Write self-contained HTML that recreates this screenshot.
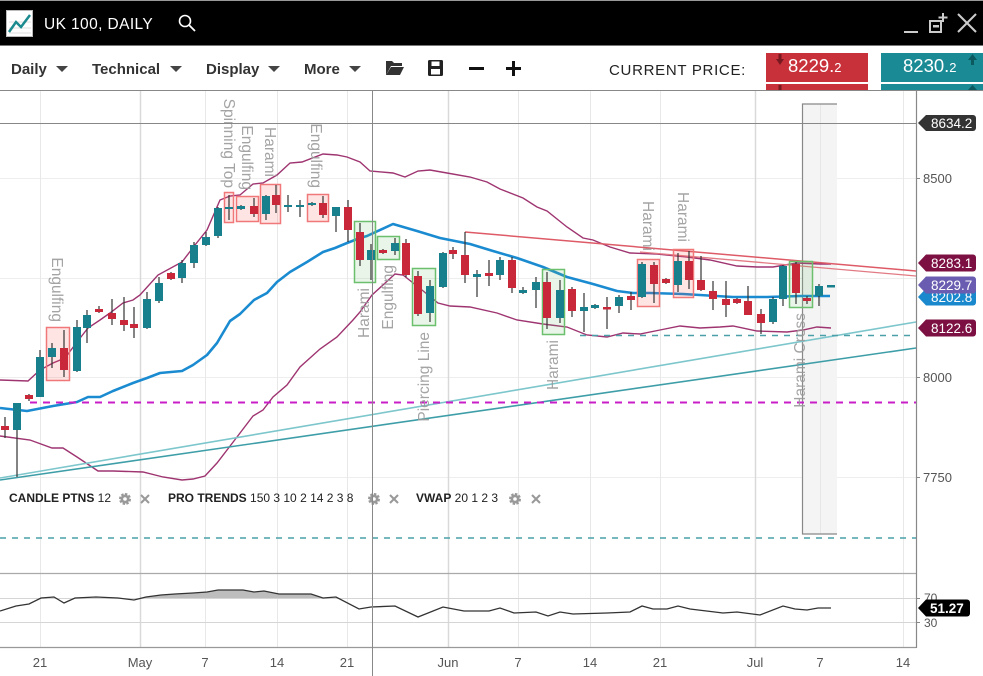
<!DOCTYPE html>
<html><head><meta charset="utf-8"><style>
html,body{margin:0;padding:0;background:#fff;width:983px;height:676px;overflow:hidden}
svg{display:block;font-family:"Liberation Sans",Arial,sans-serif}
</style></head><body>
<svg width="983" height="676" viewBox="0 0 983 676" xmlns="http://www.w3.org/2000/svg">
<!-- header -->
<rect x="0" y="0" width="983" height="1" fill="#999"/>
<rect x="0" y="1" width="983" height="44" fill="#000"/>
<rect x="0" y="45" width="983" height="1" fill="#777"/>
<rect x="6.5" y="10.5" width="26" height="26" fill="#fff" stroke="#bbb"/>
<line x1="9" y1="22" x2="31" y2="22" stroke="#ddd"/><line x1="9" y1="28" x2="31" y2="28" stroke="#ddd"/><line x1="9" y1="33" x2="31" y2="33" stroke="#ddd"/>
<polyline points="9,32 16,22 21,27 30,15" fill="none" stroke="#1a8a8e" stroke-width="2.5"/>
<text x="44" y="29" fill="#fff" font-size="15.5" letter-spacing="0.4">UK 100, DAILY</text>
<circle cx="185" cy="21" r="5.5" fill="none" stroke="#fff" stroke-width="1.6"/>
<line x1="189" y1="25" x2="195" y2="31" stroke="#fff" stroke-width="1.8"/>
<line x1="904" y1="32" x2="918" y2="32" stroke="#ccc" stroke-width="2"/>
<rect x="930" y="21" width="11" height="11" fill="none" stroke="#ccc" stroke-width="2"/>
<rect x="933" y="25" width="6" height="2.5" fill="#ccc"/>
<line x1="943" y1="13" x2="943" y2="22" stroke="#ccc" stroke-width="2"/><line x1="938.5" y1="17.5" x2="947.5" y2="17.5" stroke="#ccc" stroke-width="2"/>
<line x1="958" y1="14" x2="976" y2="32" stroke="#ccc" stroke-width="2"/><line x1="976" y1="14" x2="958" y2="32" stroke="#ccc" stroke-width="2"/>

<!-- toolbar -->
<g font-size="15" font-weight="bold" fill="#333">
<text x="11" y="74">Daily</text>
<text x="92" y="74">Technical</text>
<text x="206" y="74">Display</text>
<text x="304" y="74">More</text>
</g>
<g fill="#444">
<polygon points="56,66 68,66 62,72"/>
<polygon points="170,66 182,66 176,72"/>
<polygon points="268,66 280,66 274,72"/>
<polygon points="349,66 361,66 355,72"/>
</g>
<path d="M386,61 h6 l2,2 h8 v3 H391 l-5,9 z" fill="#333"/>
<path d="M391,67 H404 l-4,8 H386 z" fill="#333"/>
<rect x="428" y="60" width="15" height="16" rx="1.5" fill="#222"/>
<rect x="431.5" y="61.5" width="8" height="4.5" fill="#fff"/>
<rect x="431" y="69" width="9" height="5.5" fill="#fff"/>
<rect x="469" y="67" width="15" height="3" fill="#111"/>
<rect x="506" y="67" width="15" height="3" fill="#111"/>
<rect x="512" y="61" width="3" height="15" fill="#111"/>
<text x="609" y="75" font-size="15" fill="#222" letter-spacing="0.7">CURRENT PRICE:</text>
<rect x="766" y="53" width="102" height="29" fill="#c8303a"/>
<rect x="766" y="84" width="102" height="7" fill="#c8303a"/>
<polygon points="776,59 784,59 780,65" fill="#7a1820"/><rect x="778.5" y="54" width="3" height="6" fill="#7a1820"/>
<rect x="778.5" y="85" width="3" height="5" fill="#7a1820"/>
<text x="788" y="72" font-size="18.5" fill="#fff">8229.<tspan font-size="13">2</tspan></text>
<rect x="881" y="53" width="102" height="29" fill="#1a8a94"/>
<rect x="881" y="84" width="102" height="7" fill="#1a8a94"/>
<polygon points="968,60 977,60 972.5,54" fill="#0c5960"/><rect x="971" y="59" width="3" height="6" fill="#0c5960"/>
<polygon points="968,90 977,90 972.5,85" fill="#0c5960"/>
<text x="903" y="72" font-size="18.5" fill="#fff">8230.<tspan font-size="13">2</tspan></text>

<!-- chart frame -->
<rect x="0" y="90" width="983" height="1" fill="#888"/>
<!-- horizontal gridlines -->
<g stroke="#eeeeee" stroke-width="1">
<line x1="0" y1="178.5" x2="916" y2="178.5"/>
<line x1="0" y1="278.5" x2="916" y2="278.5"/>
<line x1="0" y1="377.5" x2="916" y2="377.5"/>
<line x1="0" y1="477.5" x2="916" y2="477.5"/>
</g>
<!-- vertical gridlines -->
<g stroke="#e8e8e8" stroke-width="1">
<line x1="40.5" y1="91" x2="40.5" y2="647"/>
<line x1="205.5" y1="91" x2="205.5" y2="647"/>
<line x1="277.5" y1="91" x2="277.5" y2="647"/>
<line x1="347.5" y1="91" x2="347.5" y2="647"/>
<line x1="518.5" y1="91" x2="518.5" y2="647"/>
<line x1="590.5" y1="91" x2="590.5" y2="647"/>
<line x1="660.5" y1="91" x2="660.5" y2="647"/>
<line x1="903.5" y1="91" x2="903.5" y2="647"/>
</g>
<g stroke="#d9d9d9" stroke-width="1.5">
<line x1="140.5" y1="91" x2="140.5" y2="647"/>
<line x1="448.5" y1="91" x2="448.5" y2="647"/>
<line x1="755.5" y1="91" x2="755.5" y2="647"/>
</g>
<!-- gray highlight zone -->
<rect x="802" y="104" width="35" height="430" fill="#f4f4f4"/>
<line x1="820.5" y1="104" x2="820.5" y2="534" stroke="#e6e6e6"/>
<polyline points="837,104 802.5,104 802.5,534 837,534" fill="none" stroke="#888" stroke-width="1.2"/>

<!-- bollinger upper -->
<polyline fill="none" stroke="#9e3470" stroke-width="1.4" points="0,380 28,381 40,370 53,363 65,358 77,342 88,328 100,320 110,313 123,303 133,300 140,295 158,275 182,262 195,245 207,230 220,200 230,196 240,195 253,184 263,183 277,175 290,163 302,162 323,154 337,155 347,157 360,162 370,171 393,173 405,177 418,171 430,170 447,173 470,177 487,182 500,189 523,198 537,207 547,211 567,227 583,238 593,240 610,247 630,253 657,254 687,257 710,260 737,266 757,267 773,267 797,263 820,264 831,264"/>
<!-- bollinger lower -->
<polyline fill="none" stroke="#9e3470" stroke-width="1.4" points="0,436 30,440 52,448 63,448 77,457 98,471 113,471 143,472 163,477 182,480 193,479 205,476 217,463 237,437 253,416 263,410 273,397 287,385 300,367 320,349 337,337 353,320 360,312 372,295 395,274 403,275 422,290 438,303 450,306 470,307 497,313 517,320 543,324 567,327 587,335 607,337 623,333 640,334 660,330 680,326 700,328 720,327 733,326 757,331 787,332 803,330 817,327 831,328"/>
<!-- MA -->
<polyline fill="none" stroke="#1a8bd0" stroke-width="2.6" stroke-linejoin="round" points="0,408 27,411 53,406 77,402 88,397 100,397 113,391 133,383 147,378 160,373 182,371 193,365 207,355 217,343 230,321 240,314 254,300 267,293 277,282 290,272 307,262 323,252 335,248 347,243 360,238 367,236 393,224 417,231 440,238 470,244 493,251 517,258 543,267 567,277 593,284 617,291 633,293 650,293 683,294 733,297 767,297 800,296 830,296"/>
<!-- trend lines -->
<line x1="0" y1="478" x2="916" y2="322" stroke="#7cc6cc" stroke-width="1.6"/>
<line x1="0" y1="480" x2="916" y2="348" stroke="#3e9ea8" stroke-width="1.6"/>
<line x1="465" y1="232" x2="916" y2="271" stroke="#dd5a66" stroke-width="1.5"/>
<line x1="640" y1="252" x2="916" y2="276" stroke="#e27a84" stroke-width="1.3"/>
<!-- dashed levels -->
<line x1="30" y1="402.5" x2="916" y2="402.5" stroke="#c81ec8" stroke-width="2" stroke-dasharray="7 6"/>
<line x1="580" y1="335.5" x2="916" y2="335.5" stroke="#4a9fa8" stroke-width="1.5" stroke-dasharray="6 6"/>
<line x1="0" y1="538" x2="916" y2="538" stroke="#4a9fa8" stroke-width="1.5" stroke-dasharray="6 6"/>

<!-- pattern boxes -->
<g fill="rgba(255,90,90,0.16)" stroke="#f07878" stroke-width="1.5">
<rect x="46.5" y="327.5" width="23" height="53"/>
<rect x="224.5" y="192.5" width="9" height="30"/>
<rect x="236.5" y="196.5" width="22" height="25"/>
<rect x="260.5" y="184.5" width="20" height="39"/>
<rect x="307.5" y="194.5" width="21" height="27"/>
<rect x="637.5" y="259.5" width="22" height="47"/>
<rect x="673.5" y="249.5" width="20" height="48"/>
</g>
<g fill="rgba(110,190,110,0.16)" stroke="#6cbf6c" stroke-width="1.5">
<rect x="354.5" y="221.5" width="21" height="61"/>
<rect x="377.5" y="236.5" width="22" height="23"/>
<rect x="412.5" y="268.5" width="23" height="57"/>
<rect x="542.5" y="269.5" width="22" height="65"/>
<rect x="789.5" y="261.5" width="23" height="46"/>
</g>

<!-- wicks -->
<g stroke="#333" stroke-width="1.2">
<line x1="5" y1="417" x2="5" y2="438"/><line x1="17" y1="403" x2="17" y2="477"/><line x1="29" y1="394" x2="29" y2="401"/><line x1="40" y1="350" x2="40" y2="397"/><line x1="52" y1="343" x2="52" y2="368"/><line x1="64" y1="330" x2="64" y2="377"/><line x1="77" y1="320" x2="77" y2="372"/><line x1="87" y1="310" x2="87" y2="343"/><line x1="99" y1="306" x2="99" y2="313"/><line x1="112" y1="299" x2="112" y2="325"/><line x1="124" y1="297" x2="124" y2="331"/><line x1="134" y1="307" x2="134" y2="338"/><line x1="147" y1="292" x2="147" y2="329"/><line x1="159" y1="277" x2="159" y2="303"/><line x1="171" y1="272" x2="171" y2="280"/><line x1="182" y1="260" x2="182" y2="283"/><line x1="194" y1="242" x2="194" y2="268"/><line x1="206" y1="232" x2="206" y2="246"/><line x1="218" y1="207" x2="218" y2="238"/><line x1="229" y1="195" x2="229" y2="220"/><line x1="241" y1="205" x2="241" y2="210"/><line x1="254" y1="198" x2="254" y2="217"/><line x1="266" y1="195" x2="266" y2="220"/><line x1="276" y1="185" x2="276" y2="213"/><line x1="288" y1="195" x2="288" y2="212"/><line x1="300" y1="200" x2="300" y2="217"/><line x1="312" y1="202" x2="312" y2="206"/><line x1="323" y1="196" x2="323" y2="218"/><line x1="336" y1="207" x2="336" y2="232"/><line x1="348" y1="200" x2="348" y2="242"/><line x1="360" y1="223" x2="360" y2="266"/><line x1="371" y1="244" x2="371" y2="280"/><line x1="383" y1="249" x2="383" y2="254"/><line x1="395" y1="238" x2="395" y2="255"/><line x1="406" y1="239" x2="406" y2="277"/><line x1="418" y1="271" x2="418" y2="316"/><line x1="430" y1="280" x2="430" y2="322"/><line x1="443" y1="252" x2="443" y2="288"/><line x1="453" y1="247" x2="453" y2="259"/><line x1="465" y1="232" x2="465" y2="283"/><line x1="477" y1="270" x2="477" y2="297"/><line x1="489" y1="260" x2="489" y2="286"/><line x1="500" y1="257" x2="500" y2="280"/><line x1="512" y1="257" x2="512" y2="293"/><line x1="523" y1="287" x2="523" y2="294"/><line x1="536" y1="277" x2="536" y2="308"/><line x1="547" y1="272" x2="547" y2="329"/><line x1="560" y1="280" x2="560" y2="323"/><line x1="572" y1="287" x2="572" y2="317"/><line x1="584" y1="293" x2="584" y2="332"/><line x1="595" y1="304" x2="595" y2="309"/><line x1="607" y1="297" x2="607" y2="329"/><line x1="619" y1="295" x2="619" y2="313"/><line x1="631" y1="292" x2="631" y2="310"/><line x1="642" y1="262" x2="642" y2="298"/><line x1="654" y1="262" x2="654" y2="303"/><line x1="666" y1="278" x2="666" y2="284"/><line x1="678" y1="253" x2="678" y2="292"/><line x1="689" y1="251" x2="689" y2="289"/><line x1="701" y1="256" x2="701" y2="291"/><line x1="713" y1="281" x2="713" y2="310"/><line x1="726" y1="281" x2="726" y2="317"/><line x1="737" y1="298" x2="737" y2="304"/><line x1="748" y1="286" x2="748" y2="315"/><line x1="761" y1="309" x2="761" y2="334"/><line x1="773" y1="297" x2="773" y2="324"/><line x1="783" y1="265" x2="783" y2="306"/><line x1="796" y1="262" x2="796" y2="304"/><line x1="807" y1="296" x2="807" y2="304"/><line x1="819" y1="284" x2="819" y2="306"/>
</g>
<!-- teal bodies -->
<g fill="#17808c">
<rect x="13" y="403" width="8" height="27"/><rect x="36" y="357" width="8" height="40"/><rect x="48" y="348" width="8" height="9"/><rect x="73" y="327" width="8" height="44"/><rect x="83" y="315" width="8" height="13"/><rect x="143" y="299" width="8" height="29"/><rect x="155" y="283" width="8" height="18"/><rect x="178" y="263" width="8" height="15"/><rect x="190" y="245" width="8" height="18"/><rect x="202" y="237" width="8" height="8"/><rect x="214" y="208" width="8" height="28"/><rect x="225" y="207" width="8" height="2"/><rect x="237" y="206" width="8" height="3"/><rect x="262" y="196" width="8" height="18"/><rect x="284" y="205" width="8" height="2"/><rect x="296" y="205" width="8" height="2"/><rect x="308" y="203" width="8" height="2"/><rect x="332" y="207" width="8" height="9"/><rect x="367" y="250" width="8" height="10"/><rect x="391" y="243" width="8" height="8"/><rect x="426" y="286" width="8" height="27"/><rect x="439" y="253" width="8" height="34"/><rect x="473" y="274" width="8" height="3"/><rect x="496" y="260" width="8" height="15"/><rect x="519" y="290" width="8" height="3"/><rect x="532" y="282" width="8" height="8"/><rect x="556" y="290" width="8" height="28"/><rect x="580" y="307" width="8" height="4"/><rect x="591" y="305" width="8" height="3"/><rect x="615" y="297" width="8" height="9"/><rect x="638" y="264" width="8" height="33"/><rect x="674" y="261" width="8" height="24"/><rect x="769" y="299" width="8" height="23"/><rect x="779" y="266" width="8" height="33"/><rect x="815" y="286" width="8" height="10"/><rect x="827" y="285" width="8" height="2.5"/>
</g>
<!-- red bodies -->
<g fill="#c8283a">
<rect x="1" y="426" width="8" height="4"/><rect x="25" y="395" width="8" height="4"/><rect x="60" y="348" width="8" height="22"/><rect x="95" y="309" width="8" height="3"/><rect x="108" y="313" width="8" height="6"/><rect x="120" y="320" width="8" height="5"/><rect x="130" y="324" width="8" height="4"/><rect x="167" y="273" width="8" height="6"/><rect x="250" y="206" width="8" height="8"/><rect x="272" y="195" width="8" height="10"/><rect x="319" y="203" width="8" height="12"/><rect x="344" y="207" width="8" height="23"/><rect x="356" y="232" width="8" height="28"/><rect x="379" y="250" width="8" height="3"/><rect x="402" y="243" width="8" height="32"/><rect x="414" y="276" width="8" height="38"/><rect x="449" y="250" width="8" height="4"/><rect x="461" y="255" width="8" height="20"/><rect x="485" y="273" width="8" height="3"/><rect x="508" y="260" width="8" height="28"/><rect x="543" y="282" width="8" height="36"/><rect x="568" y="289" width="8" height="22"/><rect x="603" y="307" width="8" height="2.5"/><rect x="627" y="296" width="8" height="4"/><rect x="650" y="265" width="8" height="19"/><rect x="662" y="279" width="8" height="4"/><rect x="685" y="261" width="8" height="19"/><rect x="697" y="280" width="8" height="10"/><rect x="709" y="291" width="8" height="8"/><rect x="722" y="299" width="8" height="6"/><rect x="733" y="299" width="8" height="4"/><rect x="744" y="301" width="8" height="14"/><rect x="757" y="314" width="8" height="9"/><rect x="792" y="264" width="8" height="29"/><rect x="803" y="298" width="8" height="3"/>
</g>

<!-- pattern labels -->
<g font-size="15.5" fill="#9a9a9a" fill-opacity="0.9" text-anchor="end">
<text transform="translate(52,322) rotate(90)">Engulfing</text>
<text transform="translate(224,188) rotate(90)">Spinning Top</text>
<text transform="translate(242,190) rotate(90)">Engulfing</text>
<text transform="translate(265,177) rotate(90)">Harami</text>
<text transform="translate(311,188) rotate(90)">Engulfing</text>
<text transform="translate(643,251) rotate(90)">Harami</text>
<text transform="translate(678,242) rotate(90)">Harami</text>
<text transform="translate(369,288) rotate(-90)">Harami</text>
<text transform="translate(393,265) rotate(-90)">Engulfing</text>
<text transform="translate(429,332) rotate(-90)">Piercing Line</text>
<text transform="translate(558,340) rotate(-90)">Harami</text>
<text transform="translate(805,313) rotate(-90)">Harami Cross</text>
</g>

<!-- legend -->
<g font-size="12" fill="#222">
<text x="9" y="502"><tspan font-weight="bold">CANDLE PTNS</tspan> 12</text>
<text x="168" y="502"><tspan font-weight="bold">PRO TRENDS</tspan> 150 3 10 2 14 2 3 8</text>
<text x="416" y="502"><tspan font-weight="bold">VWAP</tspan> 20 1 2 3</text>
</g>
<g fill="#999" stroke="#999">
<g transform="translate(125,499)"><circle r="4.5" stroke-width="3" stroke-dasharray="2.2 1.3" fill="#999"/><circle r="1.8" fill="#fff" stroke="none"/></g>
<g transform="translate(374,499)"><circle r="4.5" stroke-width="3" stroke-dasharray="2.2 1.3" fill="#999"/><circle r="1.8" fill="#fff" stroke="none"/></g>
<g transform="translate(515,499)"><circle r="4.5" stroke-width="3" stroke-dasharray="2.2 1.3" fill="#999"/><circle r="1.8" fill="#fff" stroke="none"/></g>
</g>
<g stroke="#999" stroke-width="2">
<line x1="141" y1="495" x2="149" y2="503"/><line x1="149" y1="495" x2="141" y2="503"/>
<line x1="390" y1="495" x2="398" y2="503"/><line x1="398" y1="495" x2="390" y2="503"/>
<line x1="532" y1="495" x2="540" y2="503"/><line x1="540" y1="495" x2="532" y2="503"/>
</g>

<!-- oscillator panel -->
<line x1="0" y1="573.5" x2="916" y2="573.5" stroke="#aaa" stroke-width="1.2"/>
<line x1="0" y1="598.5" x2="916" y2="598.5" stroke="#d5d5d5"/>
<line x1="0" y1="622.5" x2="916" y2="622.5" stroke="#d5d5d5"/>
<polygon fill="#bdbdbd" points="140,598 146,597 161,595 175,594 193,593 207,592 218,590 243,590 254,592 264,591 279,594 311,594 323,598"/>
<polyline fill="none" stroke="#333" stroke-width="1.3" points="0,611 16,606 29,604 41,598 54,597 64,603 75,598 96,597 118,598 134,600 146,597 161,595 175,594 193,593 207,592 218,590 243,590 254,592 264,591 279,594 311,594 323,598 336,597 359,609 371,607 395,606 418,617 443,607 464,611 489,611 500,608 514,613 536,612 548,616 560,612 573,614 607,613 630,612 642,606 653,609 667,609 678,606 690,609 723,613 737,612 760,615 783,606 795,609 807,610 818,608 831,608"/>
<line x1="0" y1="647.5" x2="916" y2="647.5" stroke="#999" stroke-width="1.2"/>

<!-- crosshair -->
<line x1="0" y1="123.5" x2="916" y2="123.5" stroke="#888" stroke-width="1"/>
<line x1="372.5" y1="91" x2="372.5" y2="676" stroke="#888" stroke-width="1"/>

<!-- right axis -->
<line x1="916.5" y1="91" x2="916.5" y2="648" stroke="#888" stroke-width="1.2"/>
<g stroke="#888"><line x1="916" y1="178.5" x2="920" y2="178.5"/><line x1="916" y1="377.5" x2="920" y2="377.5"/><line x1="916" y1="477.5" x2="920" y2="477.5"/><line x1="916" y1="598.5" x2="920" y2="598.5"/><line x1="916" y1="622.5" x2="920" y2="622.5"/></g>
<g font-size="13" fill="#555">
<text x="923" y="183">8500</text>
<text x="923" y="382">8000</text>
<text x="923" y="482">7750</text>
<text x="924" y="602" font-size="12">70</text>
<text x="924" y="627" font-size="12">30</text>
</g>
<!-- price tags -->
<g font-size="13.5" fill="#fff">
<path d="M918,123 L926,115 H973 a3,3 0 0 1 3,3 V128 a3,3 0 0 1 -3,3 H926 Z" fill="#333"/>
<text x="931" y="128">8634.2</text>
<path d="M918,297 L926,288.5 H973 a3,3 0 0 1 3,3 V302.5 a3,3 0 0 1 -3,3 H926 Z" fill="#1a88cc"/>
<text x="931" y="302">8202.8</text>
<path d="M918,285 L926,276.5 H973 a3,3 0 0 1 3,3 V290.5 a3,3 0 0 1 -3,3 H926 Z" fill="#6a5cb0"/>
<text x="931" y="290">8229.7</text>
<path d="M918,263 L926,254.5 H973 a3,3 0 0 1 3,3 V268.5 a3,3 0 0 1 -3,3 H926 Z" fill="#7d1042"/>
<text x="931" y="268">8283.1</text>
<path d="M918,328 L926,319.5 H973 a3,3 0 0 1 3,3 V333.5 a3,3 0 0 1 -3,3 H926 Z" fill="#7d1042"/>
<text x="931" y="333">8122.6</text>
<path d="M918,608 L926,599.5 H967 a3,3 0 0 1 3,3 V613.5 a3,3 0 0 1 -3,3 H926 Z" fill="#000"/>
<text x="930" y="613" font-weight="bold">51.27</text>
</g>

<!-- date labels -->
<g font-size="13" fill="#555" text-anchor="middle">
<text x="40" y="667">21</text>
<text x="140" y="667">May</text>
<text x="205" y="667">7</text>
<text x="277" y="667">14</text>
<text x="347" y="667">21</text>
<text x="448" y="667">Jun</text>
<text x="518" y="667">7</text>
<text x="590" y="667">14</text>
<text x="660" y="667">21</text>
<text x="755" y="667">Jul</text>
<text x="820" y="667">7</text>
<text x="903" y="667">14</text>
</g>
</svg>
</body></html>
